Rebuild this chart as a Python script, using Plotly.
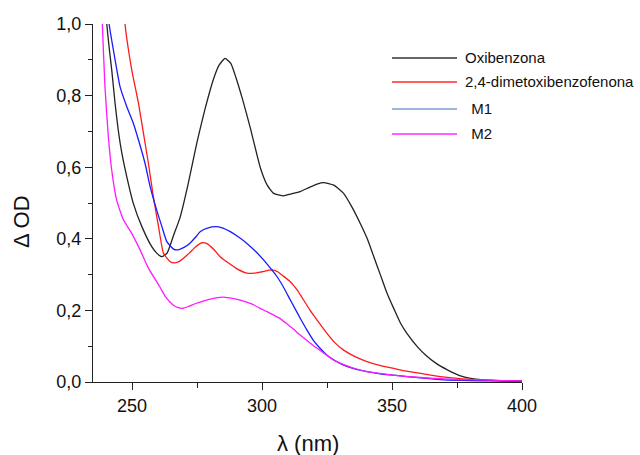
import plotly.graph_objects as go

# ---- data ----
series_names = ["Oxibenzona", "2,4-dimetoxibenzofenona", "M1", "M2"]
legend_labels = ["Oxibenzona", "2,4-dimetoxibenzofenona", "\u00a0M1", "\u00a0M2"]

oxi_wl = [239.8, 240.3, 241.2, 242.2, 243.5, 244.7, 246.1, 248, 250.5, 253.8, 257.6, 259.5, 261.5, 263.5, 266,
          268.5, 271.5, 275, 278, 281.3, 283.5, 285.8, 288, 290, 292.5, 295.5, 299.3, 302, 304.5,
          308.3, 311, 314.7, 318, 321.2, 323.7, 327.6, 331.4, 334.5, 337.8, 340.5, 343, 345.5,
          348.1, 350.7, 353.3, 355.8, 359.7, 363, 367, 371.3, 376, 380.2, 385, 390, 400]
oxi_od = [1.05, 1.0, 0.935, 0.872, 0.778, 0.704, 0.639, 0.573, 0.499, 0.434, 0.378, 0.36, 0.35, 0.36, 0.41,
          0.46, 0.55, 0.67, 0.76, 0.845, 0.885, 0.904, 0.89, 0.85, 0.79, 0.71, 0.60, 0.55, 0.527,
          0.52, 0.525, 0.532, 0.543, 0.553, 0.557, 0.55, 0.527, 0.49, 0.443, 0.40, 0.35, 0.30,
          0.248, 0.205, 0.164, 0.135, 0.099, 0.075, 0.052, 0.034, 0.018, 0.010, 0.006, 0.004, 0.003]

dmb_wl = [246.9, 247.3, 249.9, 252.5, 254.4, 256.3, 258.2, 260.2, 262.1, 264.7, 266.5, 268.2,
          269.7, 272, 274.5, 276.9, 279, 281.5, 283.9, 287, 290.4, 294.2, 297, 300, 303.8, 306,
          308, 310.9, 313.5, 316, 318.5, 321.2, 325, 328, 331.4, 336, 340.4, 345.6, 350.7, 355,
          360.3, 366, 371.3, 377, 384, 392, 400]
dmb_od = [1.05, 1.0, 0.872, 0.778, 0.695, 0.611, 0.518, 0.434, 0.36, 0.336, 0.333, 0.337,
          0.345, 0.36, 0.378, 0.389, 0.386, 0.37, 0.35, 0.333, 0.316, 0.304, 0.304, 0.308, 0.313, 0.308,
          0.297, 0.28, 0.257, 0.229, 0.2, 0.173, 0.136, 0.11, 0.089, 0.07, 0.057, 0.046, 0.038, 0.031,
          0.025, 0.018, 0.013, 0.009, 0.006, 0.004, 0.003]

m1_wl = [240.8, 241.2, 243.5, 245.4, 248, 250.5, 252.5, 255, 257, 259.5, 261.5, 263.4, 266, 267.7,
         270, 272.2, 274.5, 276.2, 279, 282.6, 285, 287.8, 291, 294.2, 297.5, 300.6, 303, 305.8, 308.5,
         310.9, 314.7, 317.3, 319.9, 322.5, 325, 328, 331.4, 336, 340.4, 346, 353.3, 360, 370, 380, 390, 400]
m1_od = [1.05, 1.0, 0.9, 0.825, 0.769, 0.723, 0.676, 0.611, 0.545, 0.48, 0.434, 0.392, 0.371, 0.369,
         0.376, 0.387, 0.405, 0.42, 0.43, 0.434, 0.43, 0.42, 0.405, 0.387, 0.365, 0.341, 0.32, 0.294, 0.262,
         0.229, 0.178, 0.145, 0.115, 0.093, 0.075, 0.06, 0.047, 0.036, 0.029, 0.022, 0.017, 0.012, 0.006,
         0.004, 0.003, 0.002]

m2_wl = [238.4, 238.6, 239.6, 240.9, 242.2, 244.1, 246.7, 249.9, 253.1, 256.3, 260.7,
         263, 265.8, 267.7, 269.7, 272, 274.8, 278, 280.5, 284.6, 287.5, 291.6, 296, 300.6, 304, 307, 310,
         312.2, 314.7, 318, 321.2, 324.5, 327.6, 332, 336, 340.4, 345.6, 352, 358.4, 366, 375, 384, 392, 400]
m2_od = [1.05, 1.0, 0.825, 0.685, 0.592, 0.508, 0.453, 0.415, 0.369, 0.318, 0.266,
         0.237, 0.215, 0.208, 0.206, 0.212, 0.22, 0.227, 0.232, 0.237, 0.235, 0.229, 0.218, 0.201, 0.189,
         0.177, 0.16, 0.147, 0.131, 0.112, 0.094, 0.077, 0.061, 0.047, 0.037, 0.029, 0.024, 0.018, 0.014,
         0.010, 0.007, 0.006, 0.004, 0.003]

x_ticks = [250, 300, 350, 400]
y_ticks = [0.0, 0.2, 0.4, 0.6, 0.8, 1.0]
x_title = "\u03bb (nm)"
y_title = "\u0394 OD"

colors = ["#222222", "#ff1a1a", "#1a1aff", "#ff1aff"]
legend_colors = ["#333333", "#ff2a2a", "#7b9bd6", "#ff2aff"]

FONT = "Liberation Sans, Arial, sans-serif"

fig = go.Figure()
all_x = [oxi_wl, dmb_wl, m1_wl, m2_wl]
all_y = [oxi_od, dmb_od, m1_od, m2_od]
for name, xs, ys, c in zip(series_names, all_x, all_y, colors):
    fig.add_trace(go.Scatter(x=xs, y=ys, mode="lines", name=name,
                             line=dict(color=c, width=1.3, shape="spline", smoothing=0.5),
                             showlegend=False))

# plot area in pixels: left 93, right 522, top 24, bottom 382
L, R, T, B = 93, 118, 24, 73
W, H = 640, 455
pw, ph = W - L - R, H - T - B

def px_x(p):
    return (p - L) / pw

def px_y(p):
    return (H - B - p) / ph

# legend drawn as shapes + text
leg_rows = [58, 82, 109, 134]
leg_text_x = [463, 463, 465, 465]
shapes = []
annotations = []
for lbl, c, yy, tx in zip(legend_labels, legend_colors, leg_rows, leg_text_x):
    shapes.append(dict(type="line", xref="paper", yref="paper",
                       x0=px_x(392), x1=px_x(457), y0=px_y(yy), y1=px_y(yy),
                       line=dict(color=c, width=1.5)))
    annotations.append(dict(text=lbl, xref="paper", yref="paper", x=px_x(tx), y=px_y(yy - 0.5),
                            xanchor="left", yanchor="middle", showarrow=False,
                            font=dict(family=FONT, size=15, color="#111111")))

annotations.append(dict(text=x_title, xref="paper", yref="paper", x=px_x(307.5), y=px_y(443),
                        xanchor="center", yanchor="middle", showarrow=False,
                        font=dict(family=FONT, size=22, color="#111111")))
annotations.append(dict(text=y_title, xref="paper", yref="paper", x=px_x(21), y=px_y(222),
                        xanchor="center", yanchor="middle", showarrow=False, textangle=-90,
                        font=dict(family=FONT, size=22, color="#111111")))

axis_common = dict(showgrid=False, zeroline=False, showline=True, linecolor="#222222", linewidth=1.3,
                   ticks="outside", ticklen=7, tickwidth=1.3, tickcolor="#222222",
                   tickfont=dict(family=FONT, size=18, color="#111111"), mirror=False)

fig.update_layout(
    width=W, height=H,
    margin=dict(l=L, r=R, t=T, b=B, pad=0),
    paper_bgcolor="white", plot_bgcolor="white",
    separators=",.",
    showlegend=False,
    xaxis=dict(range=[235, 400], tickmode="array", tickvals=x_ticks,
               minor=dict(dtick=25, tick0=225, ticks="outside", ticklen=5, tickwidth=1.3, tickcolor="#222222"),
               **axis_common),
    yaxis=dict(range=[0, 1.0], tickmode="array", tickvals=y_ticks, tickformat=".1f",
               minor=dict(dtick=0.1, tick0=0, ticks="outside", ticklen=4, tickwidth=1.3, tickcolor="#222222"),
               **axis_common),
    shapes=shapes,
    annotations=annotations,
)

fig.write_html("out.html", config={"displayModeBar": False},
               post_script="document.body.style.margin='0px';document.body.style.padding='0px';")
